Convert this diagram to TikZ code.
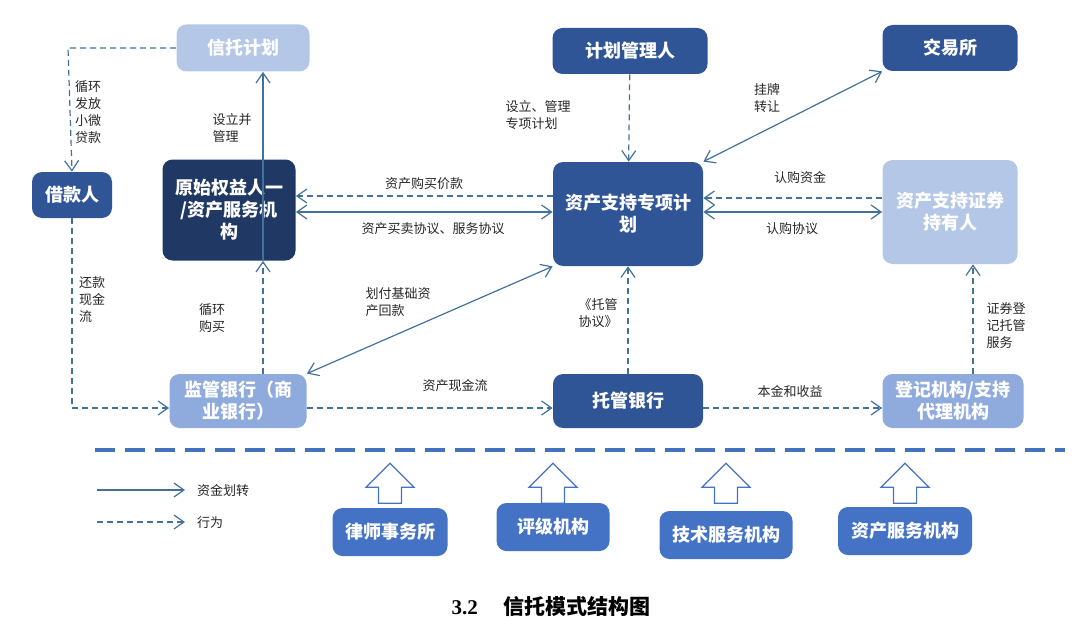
\documentclass[tikz,border=0pt]{standalone}
\usepackage{fontspec}
\setmainfont{Liberation Serif}
\newfontfamily\cjk{Noto Sans CJK SC}
\usetikzlibrary{arrows.meta, shapes.arrows}
\definecolor{darkblue}{HTML}{2F5597}
\definecolor{navy}{HTML}{1F3864}
\definecolor{paleblue}{HTML}{B4C7E7}
\definecolor{midblue}{HTML}{8FAADC}
\definecolor{servblue}{HTML}{4472C4}
\definecolor{linkblue}{HTML}{41719C}
\tikzset{
    box/.style={rounded corners=5pt, text=white, font=\cjk\bfseries\fontsize{9}{11}\selectfont,
        align=center, inner sep=0pt},
    lbl/.style={font=\cjk\fontsize{6.5}{8.5}\selectfont, align=left, text=black!85},
    flow/.style={-{Straight Barb[length=5pt,width=7pt]}, draw=linkblue, line width=0.6pt},
    both/.style={{Straight Barb[length=5pt,width=7pt]}-{Straight Barb[length=5pt,width=7pt]}, draw=linkblue, line width=0.6pt},
    act/.style={flow, dashed, dash pattern=on 3pt off 2pt},
    hollow/.style={single arrow, draw=servblue, fill=white, line width=0.6pt, rotate=90,
        minimum height=20pt, minimum width=24pt, single arrow head extend=3pt, inner sep=2.5pt}
}
\begin{document}
\begin{tikzpicture}[x=0.5pt, y=-0.5pt]
    \useasboundingbox (0,0) rectangle (1080,631);
    % Boxes
    \node[box, fill=paleblue, minimum width=66.5pt, minimum height=23.5pt](trust)  at (243,48)  {信托计划};
    \node[box, fill=darkblue, minimum width=77.5pt, minimum height=23pt](manager)  at (630,51)  {计划管理人};
    \node[box, fill=darkblue, minimum width=67.5pt, minimum height=23pt](exch)     at (950,48)  {交易所};
    \node[box, fill=darkblue, minimum width=40pt, minimum height=23pt](borrow)     at (72,195)  {借款人};
    \node[box, fill=navy, minimum width=66.5pt, minimum height=50.5pt](orig)       at (229,210) {原始权益人一\\/资产服务机\\构};
    \node[box, fill=darkblue, minimum width=75pt, minimum height=52pt](plan)       at (628,214) {资产支持专项计\\划};
    \node[box, fill=paleblue, minimum width=67.5pt, minimum height=52pt](holder)   at (950,212) {资产支持证券\\持有人};
    \node[box, fill=midblue, minimum width=68.5pt, minimum height=27pt](superv)    at (238,401) {监管银行（商\\业银行）};
    \node[box, fill=darkblue, minimum width=75pt, minimum height=27pt](custody)    at (628,401) {托管银行};
    \node[box, fill=midblue, minimum width=70.5pt, minimum height=27pt](regist)    at (953,401) {登记机构/支持\\代理机构};
    \coordinate (tl) at (68,48);
    \coordinate (bl) at (72,408);
    % Transitions
    \draw[act] (trust.west) -- (tl) -- (borrow.north);
    \draw[act] (borrow.south) -- (bl) -- (superv.west |- bl);
    \path
        (orig.south -| 263,0)
            edge [flow] (trust.south -| 263,0)
        (superv.north -| 263,0)
            edge [act] (orig.south -| 263,0)
        (superv.east |- bl)
            edge [act] (custody.west |- bl)
        (superv.north east)
            edge [both] (plan.south west)
        (plan.west |- 0,196)
            edge [act] (orig.east |- 0,196)
        (orig.east |- 0,212)
            edge [both] (plan.west |- 0,212)
        (manager)
            edge [act] (plan)
        (plan.north east)
            edge [both] (exch.south west)
        (holder.west |- 0,198)
            edge [act] (plan.east |- 0,198)
        (plan.east |- 0,212)
            edge [both] (holder.west |- 0,212)
        (custody)
            edge [act] (plan)
        (custody.east |- bl)
            edge [act] (regist.west |- bl)
        (regist.north -| 973,0)
            edge [act] (holder.south -| 973,0)
        ;
    % Labels
    \node[lbl](l1)  at (88,112)  {循环\\发放\\小微\\贷款};
    \node[lbl](l2)  at (232,128) {设立并\\管理};
    \node[lbl](l3)  at (92,300)  {还款\\现金\\流};
    \node[lbl](l4)  at (212,318) {循环\\购买};
    \node[lbl](l5)  at (424,184) {资产购买价款};
    \node[lbl](l6)  at (433,229) {资产买卖协议、服务协议};
    \node[lbl](l7)  at (398,302) {划付基础资\\产回款};
    \node[lbl](l8)  at (455,386) {资产现金流};
    \node[lbl](l9)  at (538,115) {设立、管理\\专项计划};
    \node[lbl](l10) at (767,98)  {挂牌\\转让};
    \node[lbl](l11) at (800,178) {认购资金};
    \node[lbl](l12) at (792,229) {认购协议};
    \node[lbl](l13) at (598,313) {《托管\\协议》};
    \node[lbl](l14) at (790,392) {本金和收益};
    \node[lbl](l15) at (1006,326) {证券登\\记托管\\服务};
    % Divider and legend
    \draw[servblue!80!linkblue, line width=2pt, dash pattern=on 10pt off 5pt] (95,450) -- (1065,450);
    \coordinate (a1) at (97,490);  \coordinate (a2) at (185,490);
    \coordinate (b1) at (97,522);  \coordinate (b2) at (185,522);
    \draw[flow] (a1) -- (a2);
    \draw[act] (b1) -- (b2);
    \node[lbl, anchor=west](lg1) at (190,491) {资金划转};
    \node[lbl, anchor=west](lg2) at (190,523) {行为};
    % Service providers
    \foreach \x/\y/\w/\name/\txt in {390/532/57.5/law/律师事务所, 553/527/56.5/rate/评级机构,
        726/535/66.5/tech/技术服务机构, 905/531/67/asset/资产服务机构} {
        \node[box, fill=servblue, minimum width=\w pt, minimum height=24pt](\name) at (\x,\y) {\txt};
        \node[hollow](\name up) at (\x,489) {};
    }
    \node[font=\bfseries\fontsize{10.5}{12}\selectfont](cap) at (540,606) {图 3.2\hspace{1.2em}{\cjk 信托模式结构图}};
    \node[font=\cjk\bfseries\fontsize{10.5}{12}\selectfont, anchor=east](capfig) at (cap.west) {};
\end{tikzpicture}
\end{document}
